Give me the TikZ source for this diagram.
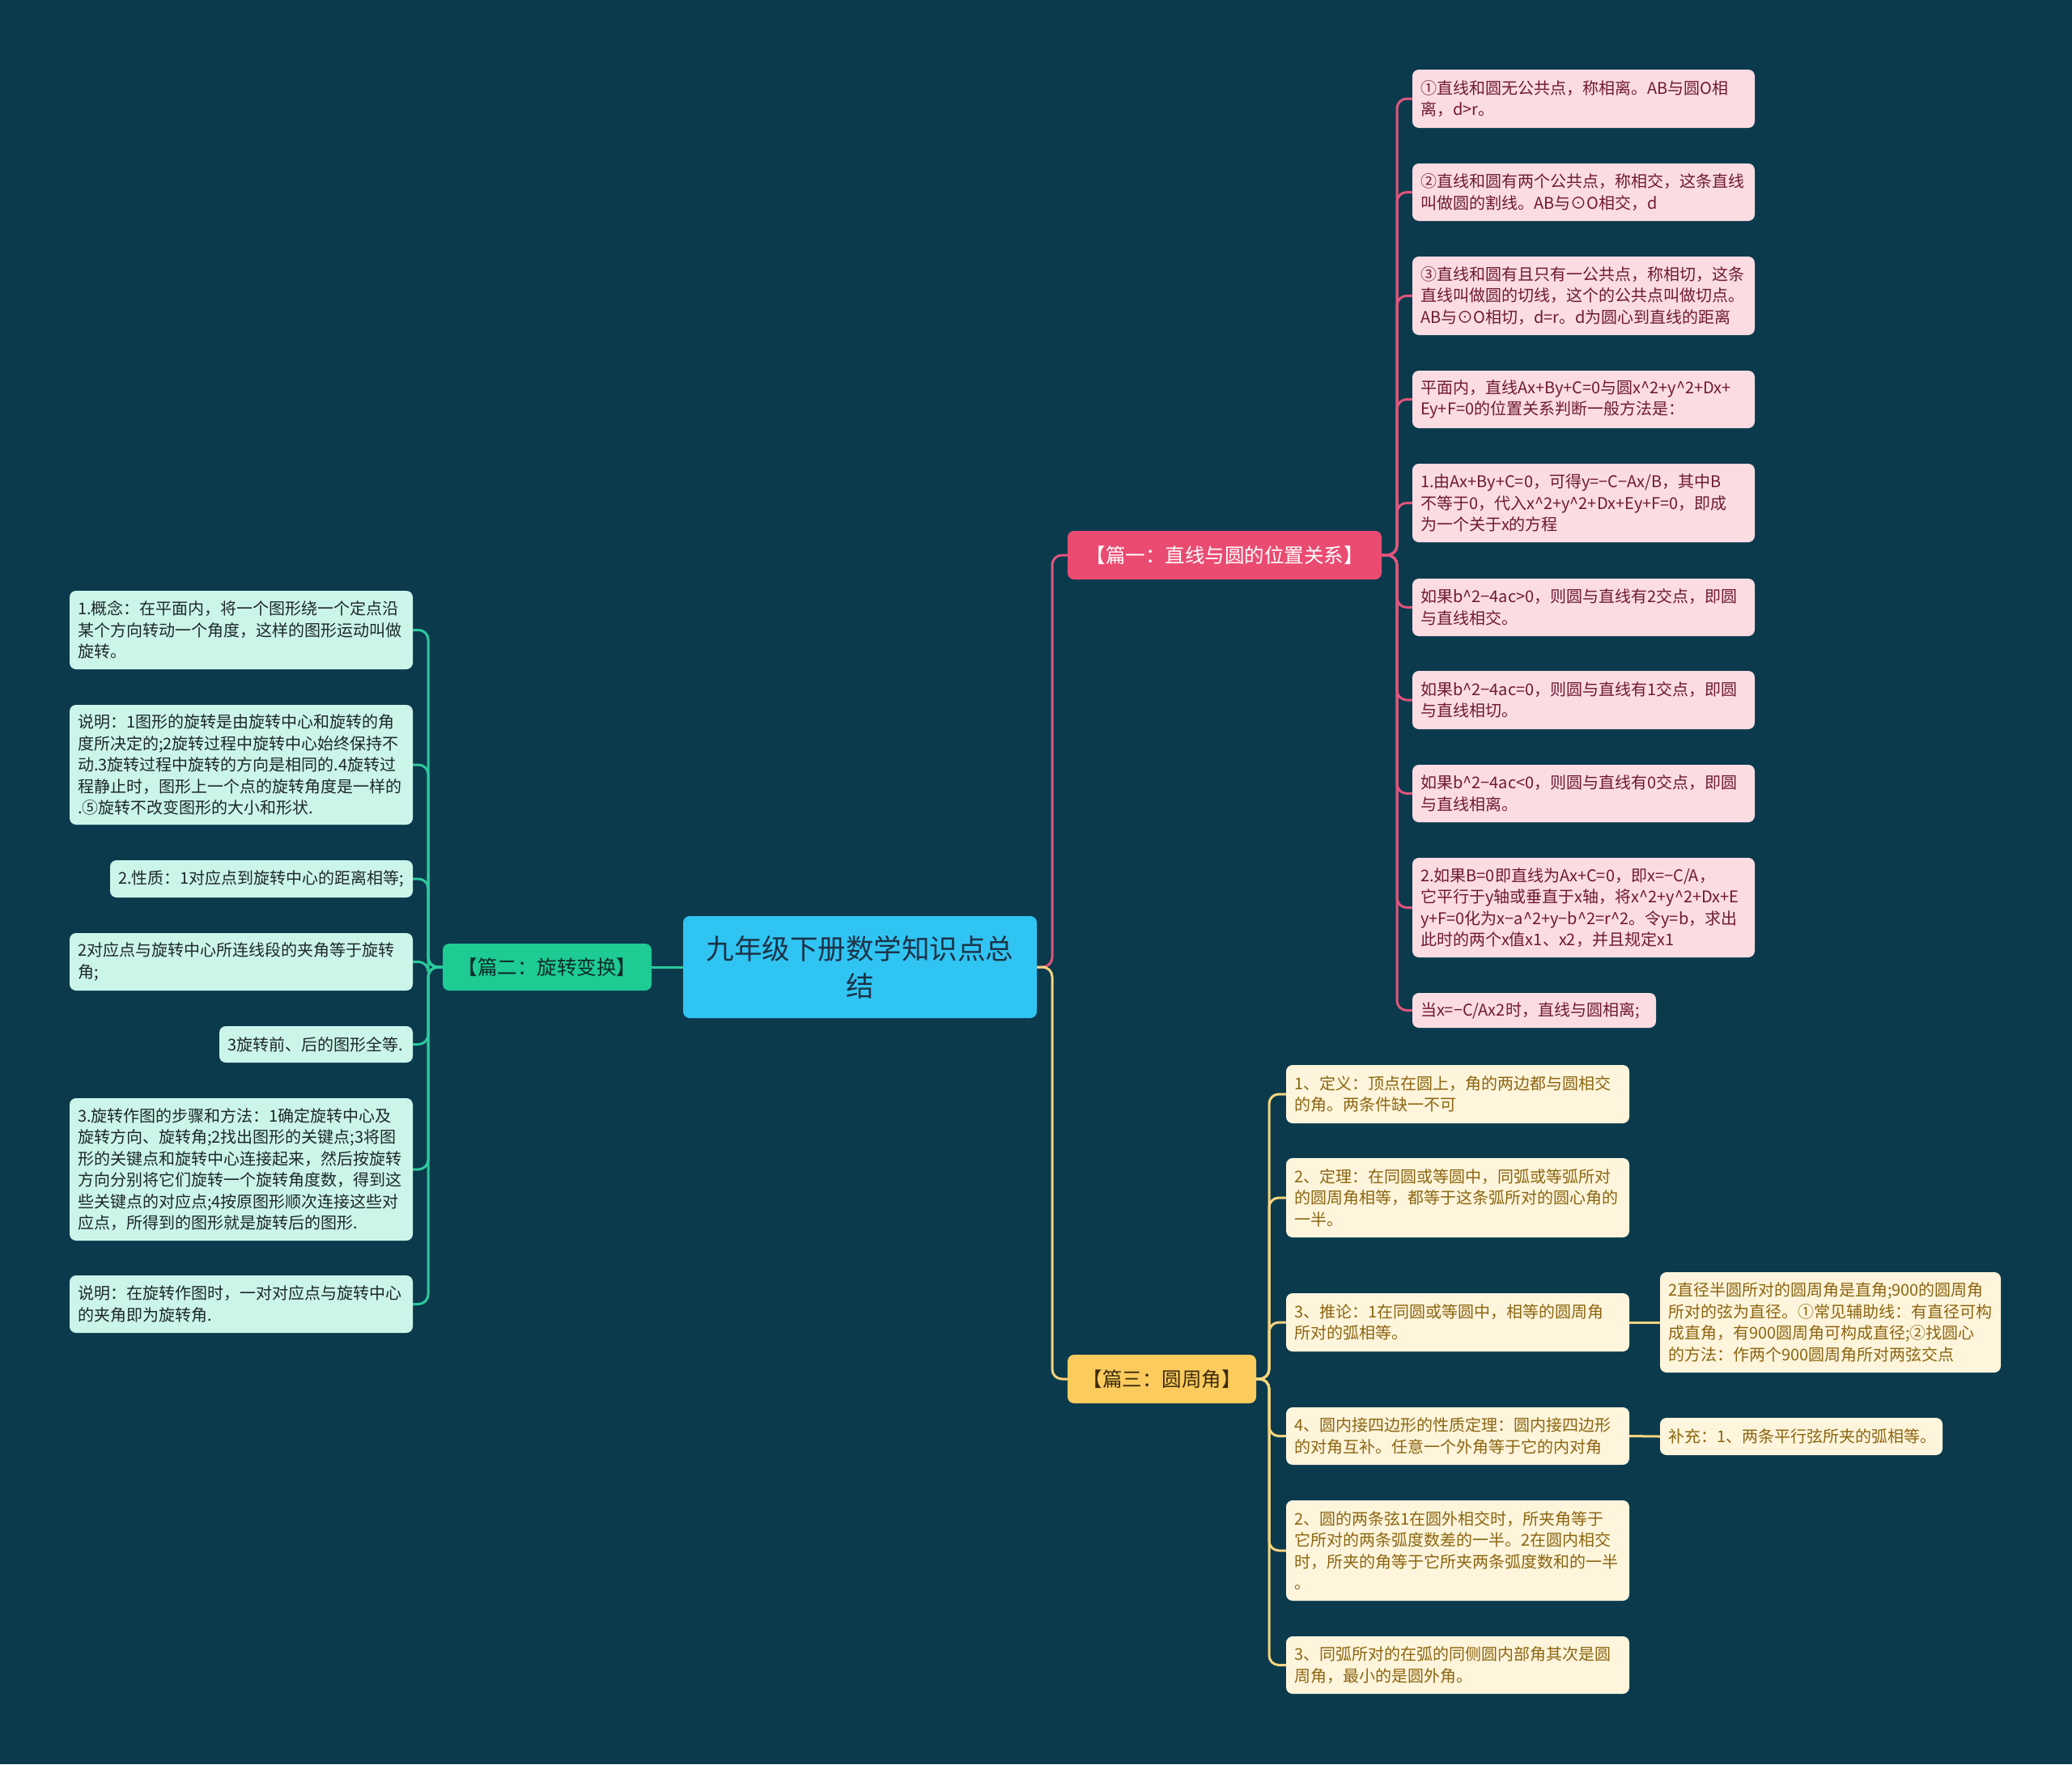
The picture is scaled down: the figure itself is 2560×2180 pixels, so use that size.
\documentclass[tikz,border=0pt]{standalone}
\usepackage{fontspec}
\setmainfont{Noto Sans CJK SC}
\newcommand\mmcrt{\textasciicircum}
\definecolor{bgc}{HTML}{0B3A4D}
\definecolor{cfill}{HTML}{30C4F3}
\definecolor{ctext}{HTML}{1B3346}
\definecolor{pfill}{HTML}{EA4B71}
\definecolor{pleaffill}{HTML}{FCDCE3}
\definecolor{ptext}{HTML}{6E1A32}
\definecolor{pline}{HTML}{E0557C}
\definecolor{gfill}{HTML}{1DCB93}
\definecolor{gtext}{HTML}{0D2A2A}
\definecolor{gleaffill}{HTML}{CCF5EA}
\definecolor{gleaftext}{HTML}{1C2828}
\definecolor{gline}{HTML}{2CC99D}
\definecolor{yfill}{HTML}{FBCB5E}
\definecolor{ytext}{HTML}{3B2A0A}
\definecolor{yleaffill}{HTML}{FEF5DC}
\definecolor{yleaftext}{HTML}{8C6510}
\definecolor{yline}{HTML}{F6D47E}
\newcommand\mmleaf[7]{%
  \pgfmathsetmacro\mmcx{(#3+#5)/2}%
  \pgfmathsetmacro\mmcy{(#4+#6)/2}%
  \pgfmathsetmacro\mmtw{#5-#3-20}%
  \pgfmathsetmacro\mmh{#6-#4}%
  \node[#2, text width=\mmtw pt, minimum height=\mmh pt] (#1) at (\mmcx,\mmcy) {#7};%
}
\tikzset{
  boxbase/.style={rounded corners=8pt, inner xsep=10pt, inner ysep=2pt},
  leafbase/.style={boxbase, align=left, font=\fontsize{20pt}{26.5pt}\selectfont},
  pleaf/.style={leafbase, fill=pleaffill, text=ptext},
  gleaf/.style={leafbase, fill=gleaffill, text=gleaftext},
  yleaf/.style={leafbase, fill=yleaffill, text=yleaftext},
  branchbase/.style={boxbase, align=center, font=\fontsize{24.5pt}{30pt}\selectfont},
  pbranch/.style={branchbase, fill=pfill, text=white},
  gbranch/.style={branchbase, fill=gfill, text=gtext},
  ybranch/.style={branchbase, fill=yfill, text=ytext},
  centerbox/.style={boxbase, align=center, fill=cfill, text=ctext, font=\fontsize{34.5pt}{46pt}\selectfont},
  conn/.style={line width=3pt, rounded corners=12pt},
  pconn/.style={conn, draw=pline},
  gconn/.style={conn, draw=gline},
  yconn/.style={conn, draw=yline},
}
\begin{document}
\begin{tikzpicture}[x=1pt,y=-1pt]
\fill[bgc] (0,0) rectangle (2560,2180);
\useasboundingbox (0,0) rectangle (2560,2180);

% center and branches
\mmleaf{c}{centerbox}{844}{1132}{1281}{1258}{九年级下册数学知识点总\\结}
\mmleaf{b1}{pbranch}{1319}{656}{1707}{716}{【篇一：直线与圆的位置关系】}
\mmleaf{b2}{gbranch}{547}{1166}{805}{1224}{【篇二：旋转变换】}
\mmleaf{b3}{ybranch}{1319}{1674}{1552}{1734}{【篇三：圆周角】}

% pink leaves
\mmleaf{p1}{pleaf}{1745}{86}{2168}{158}{①直线和圆无公共点，称相离。AB与圆O相\\离，d>r。}
\mmleaf{p2}{pleaf}{1745}{202}{2168}{273}{②直线和圆有两个公共点，称相交，这条直线\\叫做圆的割线。AB与⊙O相交，d}
\mmleaf{p3}{pleaf}{1745}{317}{2168}{414}{③直线和圆有且只有一公共点，称相切，这条\\直线叫做圆的切线，这个的公共点叫做切点。\\AB与⊙O相切，d=r。d为圆心到直线的距离}
\mmleaf{p4}{pleaf}{1745}{458}{2168}{529}{平面内，直线Ax+By+C=0与圆x\mmcrt{}2+y\mmcrt{}2+Dx+\\Ey+F=0的位置关系判断一般方法是：}
\mmleaf{p5}{pleaf}{1745}{573}{2168}{670}{1.由Ax+By+C=0，可得y=−C−Ax/B，其中B\\不等于0，代入x\mmcrt{}2+y\mmcrt{}2+Dx+Ey+F=0，即成\\为一个关于x的方程}
\mmleaf{p6}{pleaf}{1745}{715}{2168}{786}{如果b\mmcrt{}2−4ac>0，则圆与直线有2交点，即圆\\与直线相交。}
\mmleaf{p7}{pleaf}{1745}{829}{2168}{901}{如果b\mmcrt{}2−4ac=0，则圆与直线有1交点，即圆\\与直线相切。}
\mmleaf{p8}{pleaf}{1745}{945}{2168}{1016}{如果b\mmcrt{}2−4ac<0，则圆与直线有0交点，即圆\\与直线相离。}
\mmleaf{p9}{pleaf}{1745}{1060}{2168}{1183}{2.如果B=0即直线为Ax+C=0，即x=−C/A，\\它平行于y轴或垂直于x轴，将x\mmcrt{}2+y\mmcrt{}2+Dx+E\\y+F=0化为x−a\mmcrt{}2+y−b\mmcrt{}2=r\mmcrt{}2。令y=b，求出\\此时的两个x值x1、x2，并且规定x1}
\mmleaf{p10}{pleaf}{1745}{1227}{2046}{1270}{当x=−C/Ax2时，直线与圆相离;}

% green leaves
\mmleaf{g1}{gleaf}{86}{730}{510}{827}{1.概念：在平面内，将一个图形绕一个定点沿\\某个方向转动一个角度，这样的图形运动叫做\\旋转。}
\mmleaf{g2}{gleaf}{86}{871}{510}{1019}{说明：1图形的旋转是由旋转中心和旋转的角\\度所决定的;2旋转过程中旋转中心始终保持不\\动.3旋转过程中旋转的方向是相同的.4旋转过\\程静止时，图形上一个点的旋转角度是一样的\\.⑤旋转不改变图形的大小和形状.}
\mmleaf{g3}{gleaf}{136}{1063}{510}{1109}{2.性质：1对应点到旋转中心的距离相等;}
\mmleaf{g4}{gleaf}{86}{1153}{510}{1224}{2对应点与旋转中心所连线段的夹角等于旋转\\角;}
\mmleaf{g5}{gleaf}{271}{1268}{510}{1313}{3旋转前、后的图形全等.}
\mmleaf{g6}{gleaf}{86}{1357}{510}{1533}{3.旋转作图的步骤和方法：1确定旋转中心及\\旋转方向、旋转角;2找出图形的关键点;3将图\\形的关键点和旋转中心连接起来，然后按旋转\\方向分别将它们旋转一个旋转角度数，得到这\\些关键点的对应点;4按原图形顺次连接这些对\\应点，所得到的图形就是旋转后的图形.}
\mmleaf{g7}{gleaf}{86}{1576}{510}{1647}{说明：在旋转作图时，一对对应点与旋转中心\\的夹角即为旋转角.}

% yellow leaves
\mmleaf{y1}{yleaf}{1589}{1316}{2013}{1388}{1、定义：顶点在圆上，角的两边都与圆相交\\的角。两条件缺一不可}
\mmleaf{y2}{yleaf}{1589}{1431}{2013}{1529}{2、定理：在同圆或等圆中，同弧或等弧所对\\的圆周角相等，都等于这条弧所对的圆心角的\\一半。}
\mmleaf{y3}{yleaf}{1589}{1598}{2013}{1670}{3、推论：1在同圆或等圆中，相等的圆周角\\所对的弧相等。}
\mmleaf{y3c}{yleaf}{2051}{1572}{2472}{1696}{2直径半圆所对的圆周角是直角;900的圆周角\\所对的弦为直径。①常见辅助线：有直径可构\\成直角，有900圆周角可构成直径;②找圆心\\的方法：作两个900圆周角所对两弦交点}
\mmleaf{y4}{yleaf}{1589}{1739}{2013}{1810}{4、圆内接四边形的性质定理：圆内接四边形\\的对角互补。任意一个外角等于它的内对角}
\mmleaf{y4c}{yleaf}{2051}{1752}{2400}{1798}{补充：1、两条平行弦所夹的弧相等。}
\mmleaf{y5}{yleaf}{1589}{1854}{2013}{1978}{2、圆的两条弦1在圆外相交时，所夹角等于\\它所对的两条弧度数差的一半。2在圆内相交\\时，所夹的角等于它所夹两条弧度数和的一半\\。}
\mmleaf{y6}{yleaf}{1589}{2022}{2013}{2093}{3、同弧所对的在弧的同侧圆内部角其次是圆\\周角，最小的是圆外角。}

% junction coordinates
\coordinate (cj) at (1300,1195);
\coordinate (pj) at (1726,686);
\coordinate (gj) at (529,1195);
\coordinate (yj) at (1568,1704);

% center connectors
\draw[pconn] (c.east) -- (cj) |- (b1.west);
\draw[yconn] (c.east) -- (cj) |- (b3.west);
\draw[gconn] (b2.east) -- (c.west);

% pink leaf connectors
\foreach \k in {p1,p2,p3,p4,p5,p6,p7,p8,p9,p10}
  \draw[pconn] (b1.east) -- (pj) |- (\k.west);

% green leaf connectors
\foreach \k in {g1,g2,g3,g4,g5,g6,g7}
  \draw[gconn] (b2.west) -- (gj) |- (\k.east);

% yellow leaf connectors
\foreach \k in {y1,y2,y3,y4,y5,y6}
  \draw[yconn] (b3.east) -- (yj) |- (\k.west);
\draw[yconn] (y3.east) -- (y3c.west);
\draw[yconn] (y4.east) -- (y4c.west);
\end{tikzpicture}
\end{document}
